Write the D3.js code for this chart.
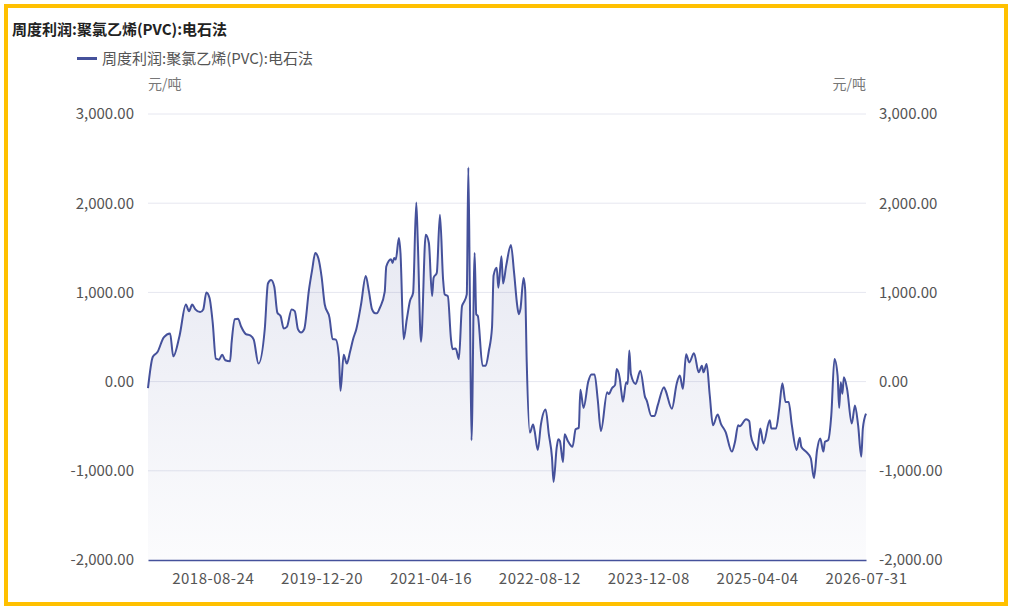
<!DOCTYPE html>
<html lang="zh">
<head>
<meta charset="utf-8">
<title>周度利润:聚氯乙烯(PVC):电石法</title>
<script src="https://cdn.jsdelivr.net/npm/d3@7"></script>
<style>
  body { margin: 0; background: #fff; }
  text { font-family: "Noto Sans CJK SC", "Noto Sans", sans-serif; }
</style>
</head>
<body>
<div id="chart"></div>
<script>
// weekly series, first week = 2017-11-10
var startWeek = "2017-11-10"
var endWeek = "2026-07-31"
// week number (from startWeek) of each reading
var weekIdx = [0,3,6,10,14,16,20,24,26,28,30,33,35,37,39,41,43,45,47,49,52,53,55,57,59,62,65,67,70,
  74,76,78,80,82,84,86,88,91,93,95,97,99,102,104,106,108,110,112,115,117,119,121,122,124,126,128,130,132,
  135,138,140,142,144,145,147,150,151,154,155,156,157,159,160,162,164,166,168,170,171,173,176,178,180,181,
  183,185,187,188,190,192,193,195,197,199,200,202,203,204,205,207,208,209,212,214,216,218,219,221,222,224,
  225,227,230,232,234,235,236,238,239,240,242,244,245,247,249,252,254,256,257,259,260,261,263,264,266,269,
  271,273,274,276,279,281,283,285,287,291,292,294,296,297,299,300,301,303,304,305,306,309,312,315,316,319,
  321,323,327,328,332,335,337,339,341,343,346,349,351,352,354,356,358,361,363,366,370,372,374,375,379,381,
  382,384,386,388,390,394,395,398,400,402,404,406,408,411,413,414,417,420,422,424,426,428,429,431,433,435,
  437,438,439,440,441,443,446,448,450,452,453,455]
var profit = [-74,276,331,496,540,283,515,864,790,864,809,779,809,1000,937,662,257,246,301,239,228,441,699,706,618,533,515,471,202,
  590,1100,1140,1066,772,735,596,614,809,790,588,551,588,1029,1250,1441,1379,1176,864,717,478,471,276,-103,301,202,331,478,588,
  864,1184,1011,809,765,765,830,1005,1290,1372,1331,1387,1368,1610,1442,476,699,903,996,2007,1554,446,1647,1554,959,1164,
  1219,1870,1145,978,959,476,364,372,253,848,885,978,2401,922,-658,1442,755,736,178,178,346,606,1190,1275,1052,1404,
  1100,1300,1531,1218,849,756,812,1162,1033,221,-572,-480,-554,-768,-480,-314,-590,-849,-1125,-738,-646,-664,-904,-590,-664,-731,
  -535,-517,-92,-295,0,81,81,-203,-554,-118,-140,-74,-37,140,30,-119,-225,-7,-26,348,85,-26,122,-174,-211,-385,
  -385,-267,-63,-100,-304,-26,67,-81,307,215,319,104,178,104,196,-156,-489,-370,-470,-563,-785,-674,-489,-500,-422,-444,
  -600,-711,-767,-526,-693,-433,-526,-526,-304,-19,-230,-230,-489,-767,-630,-730,-785,-859,-1081,-767,-637,-785,-674,-656,-378,252,
  67,-296,-7,-137,48,-81,-470,-267,-489,-841,-526,-359]
var tickDates = ["2018-08-24","2019-12-20","2021-04-16","2022-08-12","2023-12-08","2025-04-04","2026-07-31"]
var yTicks = [-2000,-1000,0,1000,2000,3000]

var seriesName = "周度利润:聚氯乙烯(PVC):电石法"
var unit = "元/吨"

drawChart()

function drawChart() {
  var w = 1012
  var h = 609
  var plotL = 148, plotR = 866, plotT = 114, plotB = 560
  var lineColor = "#45519b"
  var font = "'Noto Sans', 'Noto Sans CJK SC', sans-serif"

  var parse = d3.timeParse("%Y-%m-%d")
  var fmt = d3.timeFormat("%Y-%m-%d")
  var start = parse(startWeek)

  var data = weekIdx.map(function(k, i) {
    return { date: d3.timeDay.offset(start, k * 7), value: profit[i] }
  })

  var svg = d3.select("#chart").append("svg")
    .attr("width", w)
    .attr("height", h)

  // yellow frame
  svg.append("rect")
    .attr("x", 6).attr("y", 6)
    .attr("width", 1000).attr("height", 598)
    .attr("fill", "none")
    .attr("stroke", "#ffc000")
    .attr("stroke-width", 4)

  var xScale = d3.scaleTime()
    .domain([start, parse(endWeek)])
    .range([plotL, plotR])

  var yScale = d3.scaleLinear()
    .domain([-2000, 3000])
    .range([plotB, plotT])

  // gridlines
  svg.append("g")
    .selectAll("line")
    .data(yTicks.filter(function(d) { return d > -2000 }))
    .enter()
    .append("line")
    .attr("x1", plotL).attr("x2", plotR)
    .attr("y1", function(d) { return yScale(d) })
    .attr("y2", function(d) { return yScale(d) })
    .attr("stroke", "#e6e7f0")
    .attr("stroke-width", 1)

  // area with fade
  var grad = svg.append("defs").append("linearGradient")
    .attr("id", "fade")
    .attr("x1", 0).attr("y1", 0).attr("x2", 0).attr("y2", 1)
  grad.append("stop").attr("offset", "0%").attr("stop-color", lineColor).attr("stop-opacity", 0.15)
  grad.append("stop").attr("offset", "100%").attr("stop-color", lineColor).attr("stop-opacity", 0.02)

  var area = d3.area()
    .curve(d3.curveMonotoneX)
    .x(function(d) { return xScale(d.date) })
    .y0(plotB)
    .y1(function(d) { return yScale(d.value) })

  svg.append("path")
    .datum(data)
    .attr("d", area)
    .attr("fill", "url(#fade)")

  var line = d3.line()
    .curve(d3.curveMonotoneX)
    .x(function(d) { return xScale(d.date) })
    .y(function(d) { return yScale(d.value) })

  svg.append("path")
    .datum(data)
    .attr("d", line)
    .attr("fill", "none")
    .attr("stroke", lineColor)
    .attr("stroke-width", 2)
    .attr("stroke-linejoin", "round")

  // bottom axis
  var xAxis = d3.axisBottom(xScale)
    .tickValues(tickDates.map(parse))
    .tickFormat(fmt)
    .tickSize(0)
    .tickPadding(13)

  var gx = svg.append("g")
    .attr("transform", "translate(0," + plotB + ")")
    .call(xAxis)
  gx.select(".domain").attr("stroke", lineColor).attr("stroke-width", 1.5)
  gx.selectAll("text").attr("font-size", "15px").attr("fill", "#555")
    .attr("font-family", font).attr("letter-spacing", "0.5px")

  // y axes, both sides (plain hyphen for negatives)
  var f2 = d3.format(",.2f")
  var numFmt = function(d) { return f2(d).replace("\u2212", "-") }
  var yLeft = d3.axisLeft(yScale).tickValues(yTicks).tickFormat(numFmt).tickSize(0).tickPadding(14)
  var yRight = d3.axisRight(yScale).tickValues(yTicks).tickFormat(numFmt).tickSize(0).tickPadding(13)

  var gl = svg.append("g").attr("transform", "translate(" + plotL + ",0)").call(yLeft)
  var gr = svg.append("g").attr("transform", "translate(" + plotR + ",0)").call(yRight)
  ;[gl, gr].forEach(function(g) {
    g.select(".domain").remove()
    g.selectAll("text").attr("font-size", "15px").attr("fill", "#555")
      .attr("font-family", font)
  })

  // unit labels
  svg.append("text").text(unit)
    .attr("x", plotL).attr("y", 89)
    .attr("font-size", "14px").attr("fill", "#777")
  svg.append("text").text(unit)
    .attr("x", plotR).attr("y", 89)
    .attr("text-anchor", "end")
    .attr("font-size", "14px").attr("fill", "#777")

  // title
  svg.append("text").text(seriesName)
    .attr("x", 12).attr("y", 35)
    .attr("font-size", "15px").attr("font-weight", "bold").attr("fill", "#222")

  // legend
  svg.append("line")
    .attr("x1", 77).attr("x2", 97)
    .attr("y1", 58.5).attr("y2", 58.5)
    .attr("stroke", lineColor).attr("stroke-width", 3)
  svg.append("text").text(seriesName)
    .attr("x", 102).attr("y", 64)
    .attr("font-size", "15px").attr("fill", "#555")
}
</script>
</body>
</html>
